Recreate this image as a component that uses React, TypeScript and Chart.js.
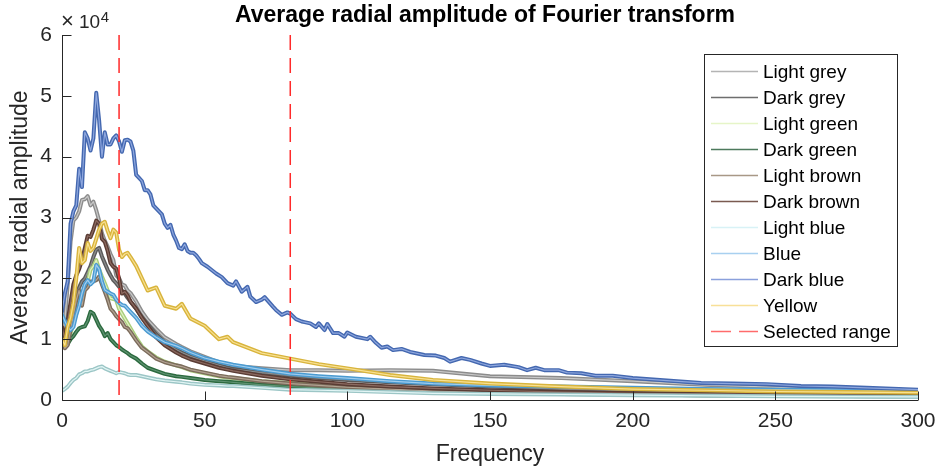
import React, { useEffect, useRef } from "react";
import { Chart, registerables } from "chart.js";
Chart.register(...registerables);

const FONT = "'Liberation Sans', Arial, Helvetica, sans-serif";

// ---------- data (amplitude in units of 1e4) ----------
const freq = [0, 1, 2, 3, 4, 5, 6, 7, 8, 9, 10, 11, 12, 13, 14, 15, 16, 17, 18, 19, 20, 21, 22, 23, 24,
  26, 28, 30, 33, 36, 40, 42, 45, 50, 55, 58, 60, 70, 80, 90, 100, 115, 130, 150, 175, 200, 225, 250, 275, 300];

const lightGrey = [1.0, 1.3, 1.9, 2.6, 2.95, 3.0, 3.1, 3.29, 3.3, 3.35, 3.2, 3.26, 3.12, 2.95, 2.74, 2.62, 2.52, 2.4, 2.3, 2.05, 2.0, 1.9, 1.88, 1.8, 1.76,
  1.62, 1.45, 1.32, 1.17, 1.03, 0.92, 0.87, 0.8, 0.71, 0.62, 0.57, 0.56, 0.52, 0.49, 0.49, 0.48, 0.49, 0.48, 0.39, 0.36, 0.31, 0.25, 0.21, 0.18, 0.16];
const darkGrey = [0.95, 1.05, 1.2, 1.35, 1.55, 1.75, 1.85, 1.95, 2.0, 2.1, 2.2, 2.35, 2.47, 2.5, 2.36, 2.25, 2.14, 2.05, 1.97, 1.92, 1.86, 1.8, 1.75, 1.68, 1.62,
  1.5, 1.36, 1.25, 1.08, 0.95, 0.83, 0.78, 0.72, 0.64, 0.57, 0.53, 0.51, 0.45, 0.4, 0.36, 0.33, 0.29, 0.26, 0.22, 0.18, 0.15, 0.13, 0.11, 0.1, 0.09];
const lightGreen = [1.0, 0.95, 1.0, 1.1, 1.25, 1.42, 1.6, 1.75, 1.85, 1.95, 2.14, 2.2, 2.3, 2.15, 2.03, 1.92, 1.8, 1.67, 1.66, 1.64, 1.5, 1.42, 1.34, 1.26, 1.18,
  1.02, 0.88, 0.8, 0.7, 0.63, 0.57, 0.54, 0.49, 0.44, 0.39, 0.37, 0.36, 0.31, 0.28, 0.25, 0.22, 0.19, 0.16, 0.14, 0.12, 0.1, 0.09, 0.08, 0.07, 0.07];
const darkGreen = [1.05, 0.95, 0.92, 1.0, 1.05, 1.12, 1.18, 1.2, 1.21, 1.3, 1.45, 1.42, 1.32, 1.22, 1.15, 1.05, 1.1, 1.0, 0.95, 0.9, 0.87, 0.83, 0.8, 0.77, 0.73,
  0.68, 0.6, 0.53, 0.48, 0.43, 0.39, 0.38, 0.36, 0.33, 0.31, 0.3, 0.29, 0.25, 0.22, 0.2, 0.18, 0.16, 0.14, 0.12, 0.1, 0.09, 0.08, 0.07, 0.065, 0.06];
const lightBrown = [1.05, 0.85, 0.9, 1.15, 1.4, 1.64, 1.8, 1.55, 1.8, 1.85, 1.95, 1.95, 1.97, 2.03, 1.9, 1.78, 1.65, 1.5, 1.45, 1.38, 1.33, 1.28, 1.2, 1.18, 1.12,
  0.98, 0.86, 0.79, 0.68, 0.62, 0.57, 0.55, 0.5, 0.45, 0.4, 0.38, 0.37, 0.31, 0.27, 0.24, 0.21, 0.18, 0.15, 0.13, 0.11, 0.09, 0.08, 0.07, 0.065, 0.06];
const darkBrown = [1.2, 1.0, 1.3, 1.6, 1.9, 2.05, 2.15, 2.3, 2.5, 2.7, 2.68, 2.8, 2.95, 2.9, 2.65, 2.6, 2.45, 2.25, 2.19, 2.16, 2.0, 1.75, 1.78, 1.72, 1.62,
  1.5, 1.35, 1.22, 1.03, 0.9, 0.78, 0.73, 0.67, 0.6, 0.53, 0.5, 0.48, 0.4, 0.34, 0.3, 0.26, 0.22, 0.19, 0.16, 0.13, 0.11, 0.1, 0.09, 0.08, 0.07];
const lightBlue = [0.15, 0.18, 0.22, 0.28, 0.33, 0.36, 0.42, 0.44, 0.47, 0.47, 0.49, 0.5, 0.52, 0.54, 0.55, 0.52, 0.5, 0.48, 0.46, 0.44, 0.46, 0.45, 0.44, 0.42, 0.41,
  0.41, 0.39, 0.37, 0.34, 0.32, 0.3, 0.29, 0.27, 0.25, 0.24, 0.23, 0.23, 0.2, 0.17, 0.16, 0.15, 0.13, 0.11, 0.1, 0.09, 0.08, 0.07, 0.06, 0.055, 0.05];
const blue = [1.4, 1.3, 1.2, 1.15, 1.2, 1.4, 1.55, 1.75, 1.9, 1.97, 1.9, 1.95, 2.22, 2.15, 1.95, 1.81, 1.78, 1.75, 1.73, 1.65, 1.6, 1.56, 1.55, 1.5, 1.45,
  1.35, 1.22, 1.13, 1.03, 0.95, 0.89, 0.85, 0.78, 0.69, 0.63, 0.6, 0.58, 0.5, 0.43, 0.39, 0.36, 0.31, 0.27, 0.24, 0.22, 0.2, 0.18, 0.17, 0.16, 0.15];
const yellow = [1.0, 0.9, 1.2, 1.35, 1.6, 2.0, 2.5, 2.25, 2.3, 2.58, 2.45, 2.5, 2.65, 2.8, 2.9, 2.93, 2.78, 2.66, 2.8, 2.75, 2.47, 2.35, 2.4, 2.42, 2.35,
  2.2, 2.0, 1.8, 1.85, 1.55, 1.5, 1.58, 1.34, 1.22, 1.0, 1.04, 0.95, 0.77, 0.68, 0.59, 0.52, 0.41, 0.33, 0.27, 0.22, 0.18, 0.16, 0.14, 0.13, 0.12];

const darkBlueFreq = [0, 1, 2, 3, 4, 5, 6, 7, 8, 9, 10, 11, 12, 13, 14, 15, 16, 17, 18, 19, 20, 21, 22, 23, 24, 25, 26, 27, 28, 29, 30,
  31, 32, 33, 34, 35, 36, 37, 38, 39, 40, 41, 42, 43, 44, 45, 46, 47, 48, 49, 51, 54, 56, 58, 60, 61, 63, 65, 66, 68, 70, 71, 74, 75, 77, 79,
  80, 82, 84, 85, 87, 89, 90, 92, 93, 95, 97, 99, 100, 103, 107, 108, 110, 112, 114, 116, 119, 122, 127, 131, 134, 136, 140, 143, 147,
  150, 155, 160, 163, 166, 169, 174, 177, 182, 187, 193, 200, 212, 224, 235, 247, 259, 270, 282, 300];
const darkBlue = [1.45, 1.75, 1.95, 2.9, 3.1, 3.2, 3.8, 3.5, 4.4, 4.3, 4.1, 4.3, 5.05, 4.6, 4.0, 4.4, 4.2, 4.2, 4.3, 4.35, 4.25, 4.08, 4.27, 4.28, 4.25, 4.1, 3.7, 3.65, 3.6, 3.45, 3.45,
  3.38, 3.2, 3.15, 3.1, 3.05, 2.9, 2.83, 2.88, 2.72, 2.62, 2.5, 2.48, 2.56, 2.45, 2.42, 2.42, 2.38, 2.32, 2.25, 2.19, 2.08, 2.02, 1.92, 1.88, 1.95, 1.78, 1.86, 1.7, 1.61, 1.65, 1.69, 1.53, 1.48, 1.4, 1.44,
  1.42, 1.33, 1.29, 1.28, 1.26, 1.2, 1.26, 1.15, 1.25, 1.1, 1.1, 1.04, 1.11, 1.04, 1.0, 1.04, 0.94, 0.86, 0.88, 0.82, 0.84, 0.79, 0.74, 0.73, 0.69, 0.63, 0.69, 0.66, 0.6,
  0.56, 0.58, 0.54, 0.49, 0.53, 0.49, 0.49, 0.45, 0.44, 0.4, 0.4, 0.36, 0.32, 0.28, 0.27, 0.26, 0.23, 0.22, 0.2, 0.17];

const seriesNames = ["Light grey", "Dark grey", "Light green", "Dark green", "Light brown", "Dark brown", "Light blue", "Blue", "Dark blue", "Yellow"];
const seriesFreqs = [freq, freq, freq, freq, freq, freq, freq, freq, darkBlueFreq, freq];
const seriesValues = [lightGrey, darkGrey, lightGreen, darkGreen, lightBrown, darkBrown, lightBlue, blue, darkBlue, yellow];
const selectedRange = [20, 80];
const rangeLabel = "Selected range";
const xTickStep = 50;
const yTickStep = 1;

// ---------- styles ----------
const outerColors = ["#8c8c8c", "#5a5a5a", "#a9cd7c", "#2b6a3e", "#7b6b5b", "#5a3c34", "#9cc6c6", "#4a9ad0", "#4468b0", "#d8b43c"];
const innerColors = ["#c9c9c9", "#8c8c8c", "#e2f2c4", "#5f9272", "#b2a392", "#8c6b61", "#e2f5f5", "#a0cdee", "#8ea7de", "#f8e092"];
const legendColors = ["#b4b4b4", "#6e6e6e", "#e6f5c8", "#4d7a5c", "#a89886", "#7a5a50", "#d8f2f6", "#a8d0f0", "#8aa0dc", "#f8e098"];
const RED = "#ff2a2a";
const AXIS = "#262626";

const decor = {
  id: "decor",
  afterDatasetsDraw(chart: any) {
    const { ctx, chartArea, scales } = chart;
    const { top, bottom } = chartArea;
    ctx.save();
    ctx.strokeStyle = RED;
    ctx.lineWidth = 1.5;
    ctx.setLineDash([15, 8]);
    for (const f of selectedRange) {
      const px = scales.x.getPixelForValue(f);
      ctx.beginPath();
      ctx.moveTo(px, top);
      ctx.lineTo(px, bottom);
      ctx.stroke();
    }
    ctx.restore();
  },
  afterDraw(chart: any) {
    const { ctx, chartArea, scales } = chart;
    const { left, right, top, bottom } = chartArea;
    const L = Math.round(left) + 0.5;
    const B = Math.round(bottom) + 0.5;
    ctx.save();
    // axes
    ctx.strokeStyle = AXIS;
    ctx.lineWidth = 1;
    ctx.beginPath();
    ctx.moveTo(L, top);
    ctx.lineTo(L, B);
    ctx.lineTo(right, B);
    ctx.stroke();
    // inward ticks
    ctx.beginPath();
    for (const t of scales.x.ticks) {
      const px = Math.round(scales.x.getPixelForValue(t.value)) + 0.5;
      ctx.moveTo(px, B);
      ctx.lineTo(px, B - 9);
    }
    for (const t of scales.y.ticks) {
      const py = Math.round(scales.y.getPixelForValue(t.value)) + 0.5;
      ctx.moveTo(L, py);
      ctx.lineTo(L + 9, py);
    }
    ctx.stroke();

    // title
    ctx.fillStyle = "#000";
    ctx.font = `bold 23px ${FONT}`;
    ctx.textAlign = "center";
    ctx.textBaseline = "middle";
    ctx.fillText("Average radial amplitude of Fourier transform", 485, 16);

    // axis labels
    ctx.fillStyle = AXIS;
    ctx.font = `23px ${FONT}`;
    ctx.fillText("Frequency", (left + right) / 2, 455);
    ctx.save();
    ctx.translate(21, (top + bottom) / 2);
    ctx.rotate(-Math.PI / 2);
    ctx.fillText("Average radial amplitude", 0, 0);
    ctx.restore();

    // exponent
    ctx.textAlign = "left";
    ctx.textBaseline = "alphabetic";
    ctx.font = `22px ${FONT}`;
    ctx.fillText("\u00d7", 61, 28);
    ctx.font = `19px ${FONT}`;
    ctx.fillText("10", 79, 28);
    const w10 = ctx.measureText("10").width;
    ctx.font = `15px ${FONT}`;
    ctx.fillText("4", 79 + w10 + 0.5, 22);

    // legend
    const bx = 704.5, by = 54.5, bw = 193, bh = 292;
    ctx.fillStyle = "#fff";
    ctx.fillRect(bx, by, bw, bh);
    ctx.strokeStyle = AXIS;
    ctx.lineWidth = 1;
    ctx.strokeRect(bx, by, bw, bh);
    ctx.font = `19px ${FONT}`;
    ctx.textBaseline = "middle";
    const names = [...seriesNames, rangeLabel];
    names.forEach((name, i) => {
      const cy = 71.5 + 26 * i;
      ctx.save();
      ctx.beginPath();
      if (i < seriesNames.length) {
        ctx.strokeStyle = legendColors[i];
        ctx.lineWidth = 1.5;
      } else {
        ctx.strokeStyle = "#ff6b6b";
        ctx.lineWidth = 1.5;
        ctx.setLineDash([20, 8]);
      }
      ctx.moveTo(711, cy);
      ctx.lineTo(758, cy);
      ctx.stroke();
      ctx.restore();
      ctx.fillStyle = "#000";
      ctx.fillText(name, 763, cy + 1);
    });
    ctx.restore();
  },
};

export default function App() {
  const ref = useRef<HTMLCanvasElement>(null);
  useEffect(() => {
    const datasets: any[] = [];
    seriesNames.forEach((name, i) => {
      const pts = seriesFreqs[i].map((x, k) => ({ x, y: seriesValues[i][k] }));
      datasets.push({
        label: name + " outline",
        data: pts,
        borderColor: outerColors[i],
        borderWidth: 4,
        order: (9 - i) * 2 + 1,
      });
      datasets.push({
        label: name,
        data: pts,
        borderColor: innerColors[i],
        borderWidth: 1.2,
        order: (9 - i) * 2,
      });
    });
    const chart = new Chart(ref.current as HTMLCanvasElement, {
      type: "line",
      data: { datasets },
      options: {
        animation: false,
        responsive: false,
        devicePixelRatio: 1,
        layout: { padding: { top: 35, right: 21, left: 0, bottom: 0 } },
        plugins: { legend: { display: false }, tooltip: { enabled: false }, title: { display: false } },
        elements: {
          point: { radius: 0 },
          line: { tension: 0, borderJoinStyle: "round", borderCapStyle: "round", fill: false },
        },
        scales: {
          x: {
            type: "linear",
            min: 0,
            max: 300,
            ticks: { stepSize: xTickStep, color: AXIS, font: { size: 21, family: FONT }, padding: 9, maxRotation: 0 },
            grid: { display: false, drawTicks: false },
            border: { display: false },
            afterFit: (s: any) => { s.height = 69; s.paddingRight = 0; s.paddingLeft = 0; },
          },
          y: {
            type: "linear",
            min: 0,
            max: 6,
            ticks: { stepSize: yTickStep, color: AXIS, font: { size: 21, family: FONT }, padding: 10 },
            grid: { display: false, drawTicks: false },
            border: { display: false },
            afterFit: (s: any) => { s.width = 62; s.paddingTop = 0; s.paddingBottom = 0; },
          },
        },
      } as any,
      plugins: [decor],
    });
    return () => chart.destroy();
  }, []);
  return (
    <div style={{ position: "fixed", left: 0, top: 0, width: 939, height: 469, background: "#fff" }}>
      <canvas ref={ref} width={939} height={469} style={{ display: "block" }} />
    </div>
  );
}
